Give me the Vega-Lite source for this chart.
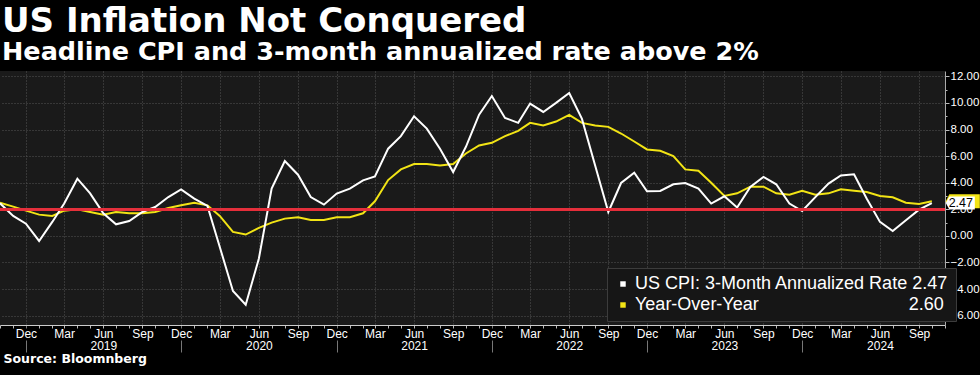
{
  "$schema": "https://vega.github.io/schema/vega-lite/v6.json",
  "width": 945,
  "height": 254,
  "autosize": {"type": "none"},
  "padding": {"left": 0, "top": 71, "right": 35, "bottom": 50},
  "background": "#000000",
  "title": {
    "text": "US Inflation Not Conquered",
    "subtitle": "Headline CPI and 3-month annualized rate above 2%",
    "anchor": "start",
    "frame": "group",
    "color": "#ffffff",
    "subtitleColor": "#ffffff",
    "font": "DejaVu Sans",
    "subtitleFont": "DejaVu Sans",
    "fontWeight": "bold",
    "subtitleFontWeight": "bold",
    "fontSize": 34,
    "subtitleFontSize": 25.5,
    "subtitlePadding": 1,
    "offset": 5,
    "dx": 2
  },
  "data": {
    "values": [
      {"date": "2018-10-01", "cpi3m": 2.45, "yoy": 2.5},
      {"date": "2018-11-01", "cpi3m": 1.5, "yoy": 2.2},
      {"date": "2018-12-01", "cpi3m": 0.92, "yoy": 1.9},
      {"date": "2019-01-01", "cpi3m": -0.38, "yoy": 1.6},
      {"date": "2019-02-01", "cpi3m": 1.05, "yoy": 1.5},
      {"date": "2019-03-01", "cpi3m": 2.43, "yoy": 1.9},
      {"date": "2019-04-01", "cpi3m": 4.3, "yoy": 2.0},
      {"date": "2019-05-01", "cpi3m": 3.2, "yoy": 1.8},
      {"date": "2019-06-01", "cpi3m": 1.7, "yoy": 1.6},
      {"date": "2019-07-01", "cpi3m": 0.87, "yoy": 1.8},
      {"date": "2019-08-01", "cpi3m": 1.12, "yoy": 1.7},
      {"date": "2019-09-01", "cpi3m": 1.8, "yoy": 1.7},
      {"date": "2019-10-01", "cpi3m": 2.17, "yoy": 1.8},
      {"date": "2019-11-01", "cpi3m": 2.92, "yoy": 2.1},
      {"date": "2019-12-01", "cpi3m": 3.5, "yoy": 2.3},
      {"date": "2020-01-01", "cpi3m": 2.8, "yoy": 2.5},
      {"date": "2020-02-01", "cpi3m": 2.25, "yoy": 2.3},
      {"date": "2020-03-01", "cpi3m": -0.83, "yoy": 1.5},
      {"date": "2020-04-01", "cpi3m": -4.14, "yoy": 0.3},
      {"date": "2020-05-01", "cpi3m": -5.17, "yoy": 0.1},
      {"date": "2020-06-01", "cpi3m": -1.7, "yoy": 0.6},
      {"date": "2020-07-01", "cpi3m": 3.56, "yoy": 1.0},
      {"date": "2020-08-01", "cpi3m": 5.63, "yoy": 1.3},
      {"date": "2020-09-01", "cpi3m": 4.6, "yoy": 1.4},
      {"date": "2020-10-01", "cpi3m": 2.92, "yoy": 1.2},
      {"date": "2020-11-01", "cpi3m": 2.35, "yoy": 1.2},
      {"date": "2020-12-01", "cpi3m": 3.18, "yoy": 1.4},
      {"date": "2021-01-01", "cpi3m": 3.55, "yoy": 1.4},
      {"date": "2021-02-01", "cpi3m": 4.18, "yoy": 1.7},
      {"date": "2021-03-01", "cpi3m": 4.48, "yoy": 2.6},
      {"date": "2021-04-01", "cpi3m": 6.56, "yoy": 4.2},
      {"date": "2021-05-01", "cpi3m": 7.5, "yoy": 5.0},
      {"date": "2021-06-01", "cpi3m": 9.0, "yoy": 5.4},
      {"date": "2021-07-01", "cpi3m": 8.07, "yoy": 5.4},
      {"date": "2021-08-01", "cpi3m": 6.56, "yoy": 5.3},
      {"date": "2021-09-01", "cpi3m": 4.8, "yoy": 5.4},
      {"date": "2021-10-01", "cpi3m": 6.7, "yoy": 6.2},
      {"date": "2021-11-01", "cpi3m": 9.12, "yoy": 6.8},
      {"date": "2021-12-01", "cpi3m": 10.52, "yoy": 7.0},
      {"date": "2022-01-01", "cpi3m": 8.87, "yoy": 7.5},
      {"date": "2022-02-01", "cpi3m": 8.5, "yoy": 7.9},
      {"date": "2022-03-01", "cpi3m": 9.95, "yoy": 8.5},
      {"date": "2022-04-01", "cpi3m": 9.32, "yoy": 8.3},
      {"date": "2022-05-01", "cpi3m": 10.0, "yoy": 8.6},
      {"date": "2022-06-01", "cpi3m": 10.75, "yoy": 9.1},
      {"date": "2022-07-01", "cpi3m": 8.8, "yoy": 8.5},
      {"date": "2022-08-01", "cpi3m": 5.3, "yoy": 8.3},
      {"date": "2022-09-01", "cpi3m": 1.8, "yoy": 8.2},
      {"date": "2022-10-01", "cpi3m": 3.98, "yoy": 7.7},
      {"date": "2022-11-01", "cpi3m": 4.75, "yoy": 7.1},
      {"date": "2022-12-01", "cpi3m": 3.35, "yoy": 6.5},
      {"date": "2023-01-01", "cpi3m": 3.38, "yoy": 6.4},
      {"date": "2023-02-01", "cpi3m": 3.88, "yoy": 6.0},
      {"date": "2023-03-01", "cpi3m": 3.98, "yoy": 5.0},
      {"date": "2023-04-01", "cpi3m": 3.55, "yoy": 4.9},
      {"date": "2023-05-01", "cpi3m": 2.43, "yoy": 4.0},
      {"date": "2023-06-01", "cpi3m": 2.98, "yoy": 3.0},
      {"date": "2023-07-01", "cpi3m": 2.13, "yoy": 3.2},
      {"date": "2023-08-01", "cpi3m": 3.68, "yoy": 3.7},
      {"date": "2023-09-01", "cpi3m": 4.43, "yoy": 3.7},
      {"date": "2023-10-01", "cpi3m": 3.88, "yoy": 3.2},
      {"date": "2023-11-01", "cpi3m": 2.43, "yoy": 3.1},
      {"date": "2023-12-01", "cpi3m": 1.87, "yoy": 3.4},
      {"date": "2024-01-01", "cpi3m": 2.92, "yoy": 3.1},
      {"date": "2024-02-01", "cpi3m": 3.93, "yoy": 3.2},
      {"date": "2024-03-01", "cpi3m": 4.55, "yoy": 3.5},
      {"date": "2024-04-01", "cpi3m": 4.63, "yoy": 3.4},
      {"date": "2024-05-01", "cpi3m": 2.8, "yoy": 3.3},
      {"date": "2024-06-01", "cpi3m": 1.05, "yoy": 3.0},
      {"date": "2024-07-01", "cpi3m": 0.37, "yoy": 2.9},
      {"date": "2024-08-01", "cpi3m": 1.17, "yoy": 2.5},
      {"date": "2024-09-01", "cpi3m": 1.97, "yoy": 2.4},
      {"date": "2024-10-01", "cpi3m": 2.47, "yoy": 2.6}
    ]
  },
  "layer": [
    {
      "mark": {"type": "line", "strokeWidth": 2},
      "encoding": {
        "x": {
          "field": "date",
          "type": "temporal",
          "scale": {
            "type": "utc",
            "domain": [
              {"year": 2018, "month": 10, "date": 1, "utc": true},
              {"year": 2024, "month": 11, "date": 1, "utc": true}
            ]
          },
          "axis": {
            "orient": "bottom",
            "title": "Source: Bloomnberg",
            "titleFont": "DejaVu Sans",
            "titleFontWeight": "bold",
            "titleFontSize": 12.5,
            "titleColor": "#ffffff",
            "titleAnchor": "start",
            "titleAlign": "left",
            "titleBaseline": "middle",
            "titleX": 3,
            "titleY": 33,
            "tickCount": {"interval": "month", "step": 1},
            "labelExpr": "utcmonth(datum.value) % 3 == 2 ? (utcmonth(datum.value) == 5 ? [utcFormat(datum.value, '%b'), utcFormat(datum.value, '%Y')] : utcFormat(datum.value, '%b')) : ''",
            "labelColor": "#ffffff",
            "labelFont": "Liberation Sans",
            "labelFontSize": 12,
            "labelLineHeight": 12,
            "labelPadding": -24,
            "labelOverlap": false,
            "labelFlush": false,
            "labelBound": false,
            "grid": true,
            "gridColor": "#555555",
            "gridDash": [1, 2],
            "gridOpacity": {"condition": {"test": "utcmonth(datum.value) % 3 == 2", "value": 1}, "value": 0},
            "domainColor": "#cccccc",
            "tickColor": {"condition": {"test": "utcmonth(datum.value) == 11", "value": "#777777"}, "value": "#bbbbbb"},
            "tickSize": 27,
            "tickDash": {"condition": {"test": "utcmonth(datum.value) == 11", "value": [3, 12, 14, 40]}, "value": [3, 40]}
          }
        },
        "y": {
          "field": "yoy",
          "type": "quantitative",
          "scale": {"domain": [-6.7, 12.4], "nice": false, "zero": false},
          "axis": {
            "orient": "right",
            "title": null,
            "values": [-6, -5, -4, -3, -2, -1, 0, 1, 2, 3, 4, 5, 6, 7, 8, 9, 10, 11, 12],
            "tickCount": 40,
            "labelExpr": "datum.value % 2 == 0 ? format(datum.value, '.2f') : ''",
            "labelColor": "#ffffff",
            "labelFont": "Liberation Sans",
            "labelFontSize": 11.5,
            "labelPadding": 1,
            "labelOverlap": false,
            "labelBound": false,
            "labelFlush": false,
            "grid": true,
            "gridColor": "#555555",
            "gridDash": [1, 2],
            "gridOpacity": {"condition": {"test": "datum.value % 2 == 0", "value": 1}, "value": 0},
            "tickColor": "#bbbbbb",
            "tickSize": {"condition": {"test": "datum.value % 2 == 0", "value": 4}, "value": 2},
            "domainColor": "#aaaaaa"
          }
        },
        "color": {
          "datum": "yoy",
          "type": "nominal",
          "scale": {"domain": ["cpi3m", "yoy"], "range": ["#ffffff", "#f2e415"]},
          "legend": {
            "orient": "none",
            "legendX": 607,
            "legendY": 197,
            "direction": "vertical",
            "title": null,
            "fillColor": "#161616",
            "strokeColor": "#3c3c3c",
            "padding": 7,
            "symbolType": "square",
            "symbolSize": 6,
            "symbolStrokeWidth": 3,
            "labelFont": "Liberation Sans",
            "labelFontSize": 18,
            "labelColor": "#ffffff",
            "labelOffset": 3,
            "rowPadding": 3,
            "labelLimit": 0,
            "labelExpr": "datum.value == 'cpi3m' ? 'US CPI: 3-Month Annualized Rate 2.47' : 'Year-Over-Year\u00a0\u00a0\u00a0\u00a0\u00a0\u00a0\u00a0\u00a0\u00a0\u00a0\u00a0\u00a0\u00a0\u00a0\u00a0\u00a0\u00a0\u00a0\u00a0\u00a0\u00a0\u00a0\u00a0\u00a0\u00a0\u00a0\u00a0\u00a0\u00a0\u00a02.60'"
          }
        }
      }
    },
    {
      "mark": {"type": "line", "strokeWidth": 2},
      "encoding": {
        "x": {"field": "date", "type": "temporal"},
        "y": {"field": "cpi3m", "type": "quantitative"},
        "color": {"datum": "cpi3m", "type": "nominal"}
      }
    },
    {
      "mark": {"type": "rule", "color": "#e5303d", "strokeWidth": 2},
      "encoding": {"y": {"datum": 2}}
    },
    {
      "transform": [{"filter": "time(datum.date) == utc(2024, 9, 1)"}],
      "mark": {"type": "point", "shape": "M1.4,0L1.75,-0.7H4.8V0.7H1.75Z", "size": 400, "filled": true, "opacity": 1, "color": "#f2e415"},
      "encoding": {
        "x": {"field": "date", "type": "temporal"},
        "y": {"field": "yoy", "type": "quantitative"}
      }
    },
    {
      "transform": [{"filter": "time(datum.date) == utc(2024, 9, 1)"}],
      "mark": {"type": "point", "shape": "M1.4,0L1.75,-0.65H4.3V0.65H1.75Z", "size": 400, "filled": true, "opacity": 1, "color": "#ffffff"},
      "encoding": {
        "x": {"field": "date", "type": "temporal"},
        "y": {"field": "cpi3m", "type": "quantitative"}
      }
    },
    {
      "transform": [{"filter": "time(datum.date) == utc(2024, 9, 1)"}],
      "mark": {"type": "text", "dx": 29, "color": "#000000", "font": "Liberation Sans", "fontSize": 12.5, "align": "center", "baseline": "middle"},
      "encoding": {
        "x": {"field": "date", "type": "temporal"},
        "y": {"field": "cpi3m", "type": "quantitative"},
        "text": {"field": "cpi3m", "type": "quantitative", "format": ".2f"}
      }
    }
  ],
  "config": {
    "view": {"fill": "#1a1a1a", "stroke": null},
    "axis": {"labelOverlap": false}
  }
}
